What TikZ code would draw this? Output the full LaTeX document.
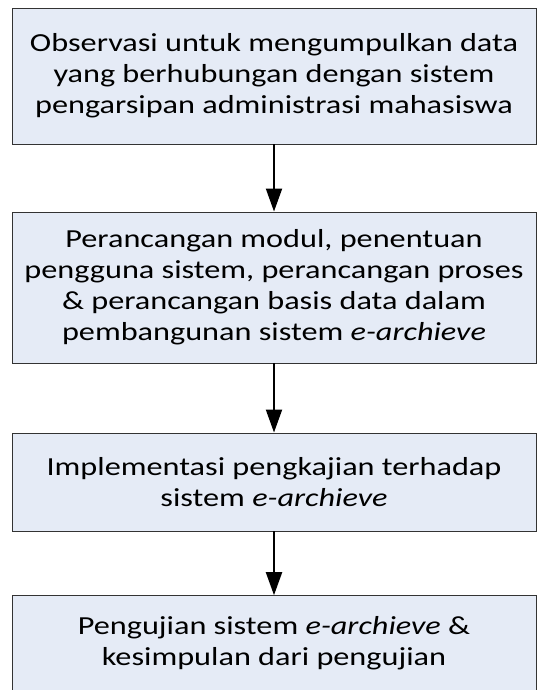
\documentclass[tikz,border=0pt]{standalone}
\usepackage{fontspec}
\setmainfont{Carlito}[FakeStretch=1.24]
\usepackage{tikz}
\usetikzlibrary{positioning}
\usetikzlibrary{calc}
\usetikzlibrary{arrows.meta}

\tikzset{
	kotak/.style={draw=black!80, line width=0.8pt, fill=eeffcc, minimum width=15.72cm, align=center, font=\fontsize{22.2}{26.5}\selectfont, inner sep=0pt},
	panah/.style={line width=1.7pt, -{Triangle[width=0.48cm,length=0.69cm]}}
}

\begin{document}
\begin{tikzpicture}
							\definecolor{eeffcc}{rgb}{0.898,0.922,0.965}
							
							\useasboundingbox (0,0) rectangle (16.11,-20.7);
							\clip (0,0) rectangle (16.11,-20.7);
							
							\node[kotak, minimum height=4.08cm] (obs) at (8.22,-2.28) {Observasi untuk mengumpulkan data\\ yang berhubungan dengan sistem\\ pengarsipan administrasi mahasiswa};
							\node[kotak, minimum height=4.53cm] (rancang) at (8.22,-8.625) {Perancangan modul, penentuan\\ pengguna sistem, perancangan proses\\ \& perancangan basis data dalam\\ pembangunan sistem \textit{e-archieve}};
							\node[kotak, minimum height=2.94cm] (impl) at (8.22,-14.46) {Implementasi pengkajian terhadap\\ sistem \textit{e-archieve}};
							\node[kotak, minimum height=2.88cm] (uji) at (8.22,-19.31) {Pengujian sistem \textit{e-archieve} \&\\ kesimpulan dari pengujian};
							
							\draw[panah] (obs) -- (rancang);
							\draw[panah] (rancang) -- (impl);
							\draw[panah] (impl) -- (uji);
						\end{tikzpicture}
\end{document}
